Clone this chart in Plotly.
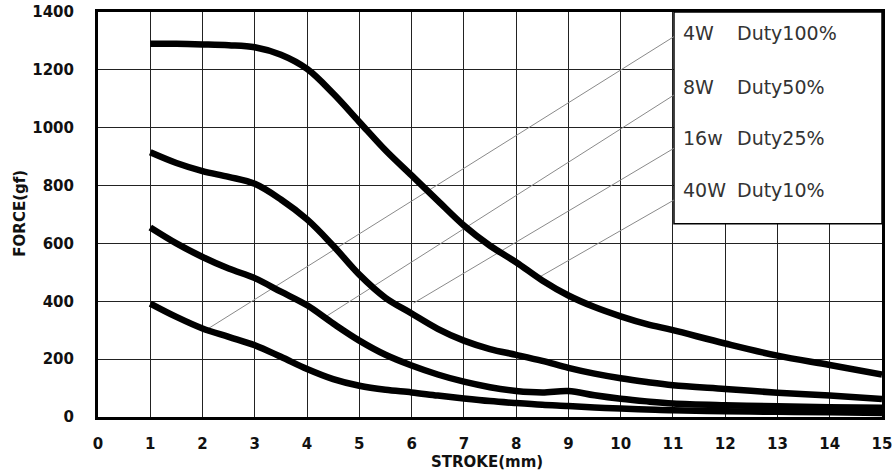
import plotly.graph_objects as go

# ---- data ----
stroke = [1, 1.5, 2, 2.5, 3, 3.5, 4, 4.5, 5, 5.5, 6, 6.5, 7, 7.5, 8, 8.5, 9, 9.5, 10, 10.5, 11, 12, 13, 14, 15]

force_40w = [1290, 1290, 1288, 1285, 1278, 1252, 1203, 1118, 1020, 922, 835, 748, 662, 592, 535, 472, 420, 380, 348, 321, 300, 254, 212, 180, 147]
force_16w = [915, 878, 850, 830, 806, 752, 683, 592, 492, 412, 358, 305, 264, 235, 215, 194, 170, 150, 134, 121, 110, 97, 84, 74, 62]
force_8w = [655, 600, 553, 513, 480, 433, 386, 323, 264, 215, 178, 147, 122, 103, 90, 85, 90, 75, 63, 54, 47, 41, 37, 34, 32]
force_4w = [392, 346, 306, 277, 248, 208, 166, 131, 108, 94, 85, 74, 64, 55, 48, 42, 38, 33, 29, 26, 23, 20, 18, 16, 14]

labels_power = ["4W", "8W", "16w", "40W"]
labels_duty = ["Duty100%", "Duty50%", "Duty25%", "Duty10%"]
label_y = [1326, 1142, 966, 786]

# leader lines (start on curve -> end at legend box)
leader_x = [[2.06, 11.02], [4.35, 11.02], [6.04, 11.02], [8.40, 11.02]]
leader_y = [[300, 1315], [346, 1113], [394, 929], [479, 750]]

x_ticks = list(range(0, 16))
y_ticks = [0, 200, 400, 600, 800, 1000, 1200, 1400]

box_x = [11.02, 15]
box_y = [668, 1400]

fig = go.Figure()

# leader lines
for lx, ly in zip(leader_x, leader_y):
    fig.add_trace(go.Scatter(x=lx, y=ly, mode="lines",
                             line=dict(color="#8a8a8a", width=1),
                             hoverinfo="skip", showlegend=False))

# curves
for ys in [force_40w, force_16w, force_8w, force_4w]:
    fig.add_trace(go.Scatter(x=stroke, y=ys, mode="lines",
                             line=dict(color="black", width=6.5, shape="spline", smoothing=1.0),
                             showlegend=False))

# legend box (covers grid)
fig.add_shape(type="rect", xref="x", yref="y",
              x0=box_x[0], x1=box_x[1], y0=box_y[0], y1=box_y[1],
              fillcolor="white", line=dict(color="black", width=1.5),
              layer="between")

for p, d, ly in zip(labels_power, labels_duty, label_y):
    fig.add_annotation(x=11.15, y=ly, xref="x", yref="y", text=p, showarrow=False,
                       xanchor="left", yanchor="middle",
                       font=dict(family="DejaVu Sans", size=19, color="#333333"))
    fig.add_annotation(x=12.18, y=ly, xref="x", yref="y", text=d, showarrow=False,
                       xanchor="left", yanchor="middle",
                       font=dict(family="DejaVu Sans", size=19, color="#333333"))

fig.add_annotation(x=0.496, y=-0.112, xref="paper", yref="paper", text="STROKE(mm)",
                   showarrow=False, xanchor="center", yanchor="middle",
                   font=dict(family="DejaVu Sans", size=15, color="#111111", weight="bold"))
fig.add_annotation(x=-0.099, y=0.503, xref="paper", yref="paper", text="FORCE(gf)",
                   showarrow=False, xanchor="center", yanchor="middle", textangle=-90,
                   font=dict(family="DejaVu Sans", size=15, color="#111111", weight="bold"))

fig.update_xaxes(range=[0, 15], tickvals=x_ticks, ticktext=[str(v) for v in x_ticks],
                 showgrid=True, gridcolor="#222222", gridwidth=1,
                 showline=True, linecolor="black", linewidth=3, mirror=True,
                 ticks="", ticklabelstandoff=11, zeroline=False, automargin=False,
                 ticklabeloverflow="allow",
                 tickfont=dict(family="DejaVu Sans", size=15, color="#111111", weight="bold"))
fig.update_yaxes(range=[0, 1400], tickvals=y_ticks, ticktext=[str(v) for v in y_ticks],
                 showgrid=True, gridcolor="#222222", gridwidth=1,
                 showline=True, linecolor="black", linewidth=3, mirror=True,
                 ticks="", ticklabelstandoff=18, zeroline=False, automargin=False,
                 ticklabeloverflow="allow",
                 tickfont=dict(family="DejaVu Sans", size=15, color="#111111", weight="bold"))

fig.update_layout(width=894, height=474,
                  margin=dict(l=97.5, r=12, t=12, b=57),
                  plot_bgcolor="white", paper_bgcolor="white",
                  showlegend=False)

fig.write_html("out.html", config={"displayModeBar": False},
               post_script="document.body.style.margin='0px';")
